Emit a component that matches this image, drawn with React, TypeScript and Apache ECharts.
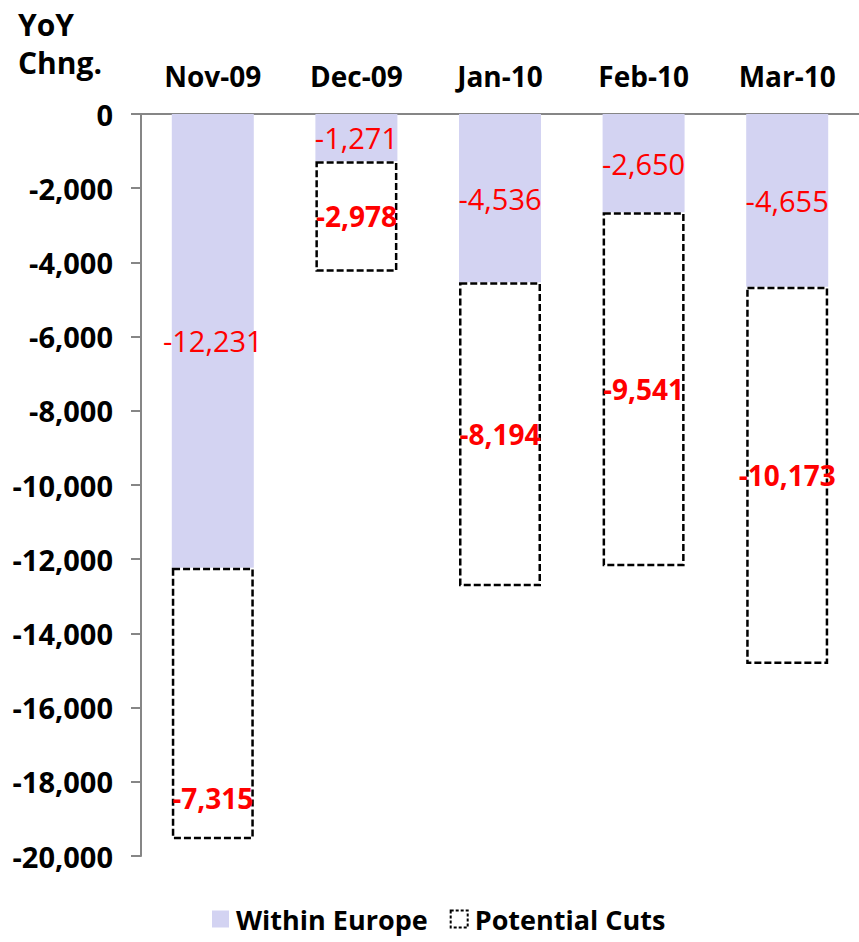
import React, { useEffect, useRef } from "react";
import * as echarts from "echarts";

const months = ["Nov-09", "Dec-09", "Jan-10", "Feb-10", "Mar-10"];
const withinEurope = [-12231, -1271, -4536, -2650, -4655];
const potentialCuts = [-7315, -2978, -8194, -9541, -10173];
const axisMin = -20000;
const axisMax = 0;
const axisStep = 2000;

const FONT = "'Open Sans', 'Noto Sans', sans-serif";
const fmt = (v: number) => v.toLocaleString("en-US");

export default function App() {
  const ref = useRef<HTMLDivElement>(null);

  useEffect(() => {
    if (!ref.current) return;
    const chart = echarts.init(ref.current, undefined, { renderer: "svg" });
    const cutsStyle = {
      color: "#ffffff",
      borderColor: "#000000",
      borderWidth: 2.5,
      borderType: [7, 3] as any,
    };
    // the first month's cut label sits low in its box
    const cutsData = potentialCuts.map((v, i) =>
      i === 0 ? { value: v, label: { offset: [0, 95] } } : v
    );
    chart.setOption({
      animation: false,
      backgroundColor: "#ffffff",
      textStyle: { fontFamily: FONT },
      title: {
        text: "YoY\nChng.",
        left: 13,
        top: 0,
        textStyle: {
          fontFamily: FONT,
          fontSize: 30,
          fontWeight: "bold",
          color: "#000",
          lineHeight: 38,
        },
      },
      legend: {
        left: 212,
        top: 905,
        padding: 0,
        itemWidth: 17,
        itemHeight: 17,
        itemGap: 22,
        icon: "rect",
        textStyle: {
          fontFamily: FONT,
          fontSize: 27,
          fontWeight: "bold",
          color: "#000",
          lineHeight: 28,
          padding: [0, 0, 0, 2],
        },
        data: [
          { name: "Within Europe", itemStyle: { color: "#D3D3F2", borderWidth: 0 } },
          { name: "Potential Cuts", itemStyle: { ...cutsStyle, borderWidth: 2, borderType: [3, 2] } },
        ],
      },
      grid: { left: 141, top: 114, width: 727, height: 742 },
      xAxis: {
        type: "category",
        data: months,
        position: "top",
        axisLine: { lineStyle: { color: "#868686", width: 2 } },
        axisTick: { inside: true, length: 10, lineStyle: { color: "#868686", width: 2 } },
        axisLabel: {
          fontFamily: FONT,
          fontSize: 28,
          fontWeight: "bold",
          color: "#000",
          margin: 24,
        },
      },
      yAxis: {
        type: "value",
        min: axisMin,
        max: axisMax,
        interval: axisStep,
        axisLine: { show: true, lineStyle: { color: "#868686", width: 2 } },
        axisTick: { show: true, length: 10, lineStyle: { color: "#868686", width: 2 } },
        splitLine: { show: false },
        axisLabel: {
          fontFamily: FONT,
          fontSize: 29,
          fontWeight: "bold",
          color: "#000",
          margin: 28,
          formatter: (v: number) => fmt(v),
        },
      },
      series: [
        {
          name: "Within Europe",
          type: "bar",
          stack: "total",
          data: withinEurope,
          barWidth: 82,
          itemStyle: { color: "#D3D3F2" },
          label: {
            show: true,
            position: "inside",
            color: "#FF0000",
            fontFamily: FONT,
            fontSize: 29,
            formatter: (p: any) => fmt(p.value),
          },
        },
        {
          name: "Potential Cuts",
          type: "bar",
          stack: "total",
          data: cutsData,
          barWidth: 82,
          itemStyle: cutsStyle,
          label: {
            show: true,
            position: "inside",
            color: "#FF0000",
            fontFamily: FONT,
            fontSize: 28,
            fontWeight: "bold",
            formatter: (p: any) => fmt(p.value),
          },
        },
      ],
    });
    return () => chart.dispose();
  }, []);

  return (
    <div
      ref={ref}
      style={{ position: "fixed", left: 0, top: 0, width: 859, height: 942 }}
    />
  );
}
